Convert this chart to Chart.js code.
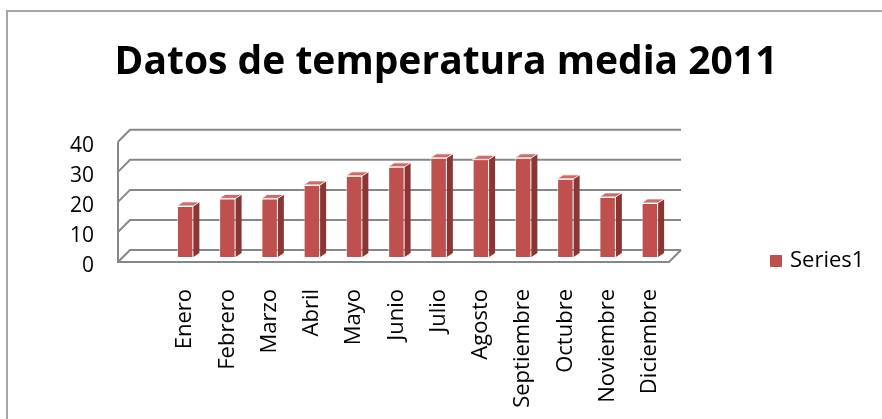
<!DOCTYPE html>
<html>
<head>
<meta charset="utf-8">
<script src="https://cdn.jsdelivr.net/npm/chart.js@4/dist/chart.umd.min.js"></script>
<style>
  html, body { margin: 0; padding: 0; background: #fff; overflow: hidden; }
  #wrap { position: relative; width: 882px; height: 419px; }
  #frame { position: absolute; left: 6px; top: 10px; width: 900px; height: 450px;
           border-left: 2px solid #a6a6a6; border-top: 2px solid #a6a6a6; }
  canvas { position: absolute; left: 0; top: 0; }
</style>
</head>
<body>
<div id="wrap">
  <div id="frame"></div>
  <canvas id="chart" width="882" height="419"></canvas>
</div>
<script>
const months = ['Enero', 'Febrero', 'Marzo', 'Abril', 'Mayo', 'Junio',
                'Julio', 'Agosto', 'Septiembre', 'Octubre', 'Noviembre', 'Diciembre'];
const temps = [17, 19.5, 19.5, 24, 27, 30, 33, 32.5, 33, 26, 20, 18];
const yTicks = [0, 10, 20, 30, 40];
const seriesName = 'Series1';
const chartTitle = 'Datos de temperatura media 2011';

const barColor   = '#c0504d';
const sideColor  = '#8a3634';
const topColor   = '#cf6a67';
const gridColor  = '#878787';

// fake 3D: walls + floor + gridlines behind the bars
const wallPlugin = {
    id: 'wall3d',
    beforeDatasetsDraw(chart) {
        const ctx = chart.ctx;
        const area = chart.chartArea;
        const y = chart.scales.y;
        const fx = area.left - 46, bx = area.left - 34, rx = area.right + 10;
        ctx.save();
        ctx.strokeStyle = gridColor;
        ctx.lineWidth = 2;
        yTicks.forEach(v => {
            const py = y.getPixelForValue(v);
            ctx.beginPath();
            ctx.moveTo(fx, py + 5);
            ctx.lineTo(bx, py - 7);
            ctx.lineTo(rx, py - 7);
            ctx.stroke();
        });
        const top = y.getPixelForValue(yTicks[yTicks.length - 1]);
        const base = y.getPixelForValue(0);
        ctx.beginPath();
        ctx.moveTo(fx, top + 5);
        ctx.lineTo(fx, base + 5);
        ctx.lineTo(area.right - 2, base + 5);
        ctx.lineTo(rx, base - 7);
        ctx.stroke();
        ctx.restore();
    },
    afterDatasetsDraw(chart) {
        const ctx = chart.ctx;
        const dx = 6, dy = 4;
        ctx.save();
        chart.getDatasetMeta(0).data.forEach(bar => {
            const { x, y, base, width } = bar.getProps(['x', 'y', 'base', 'width'], true);
            const l = x - width / 2, r = x + width / 2;
            ctx.fillStyle = sideColor;
            ctx.beginPath();
            ctx.moveTo(r, y);
            ctx.lineTo(r + dx, y - dy);
            ctx.lineTo(r + dx, base - dy);
            ctx.lineTo(r, base);
            ctx.closePath();
            ctx.fill();
            ctx.fillStyle = topColor;
            ctx.beginPath();
            ctx.moveTo(l, y);
            ctx.lineTo(l + dx, y - dy);
            ctx.lineTo(r + dx, y - dy);
            ctx.lineTo(r, y);
            ctx.closePath();
            ctx.fill();
            ctx.strokeStyle = 'rgba(255,255,255,0.8)';
            ctx.lineWidth = 1;
            ctx.stroke();
        });
        ctx.restore();
    },
    afterDraw(chart) {
        // legend on the right
        const ctx = chart.ctx;
        const area = chart.chartArea;
        const ds = chart.data.datasets[0];
        const cy = area.bottom + 4;
        const bx = area.right + 99;
        ctx.save();
        ctx.fillStyle = ds.backgroundColor;
        ctx.fillRect(bx, cy - 6, 12, 12);
        ctx.fillStyle = '#000';
        ctx.font = '22px "Open Sans"';
        ctx.textBaseline = 'middle';
        ctx.fillText(ds.label, bx + 20, cy);
        ctx.restore();
    }
};

new Chart(document.getElementById('chart'), {
    type: 'bar',
    data: {
        labels: months,
        datasets: [{
            label: seriesName,
            data: temps,
            backgroundColor: barColor,
            borderColor: 'rgba(255,255,255,0.6)',
            borderWidth: 1,
            categoryPercentage: 1,
            barPercentage: 0.39
        }]
    },
    options: {
        responsive: false,
        animation: false,
        layout: { padding: { left: 10, right: 0, top: 0, bottom: 0 } },
        plugins: {
            legend: { display: false },
            tooltip: { enabled: false },
            title: {
                display: true,
                text: chartTitle,
                color: '#000',
                font: { family: 'Open Sans', size: 39, weight: 'bold', lineHeight: 1.2 },
                padding: { top: 39, bottom: 51 }
            }
        },
        scales: {
            x: {
                grid: { display: false },
                border: { display: false },
                ticks: {
                    color: '#000',
                    font: { family: 'Open Sans', size: 22 },
                    minRotation: 90,
                    maxRotation: 90,
                    padding: 24,
                    autoSkip: false
                },
                afterFit: s => { s.height = 162; }
            },
            y: {
                min: 0,
                max: 40,
                grid: { display: false },
                border: { display: false },
                ticks: {
                    stepSize: 10,
                    color: '#000',
                    font: { family: 'Open Sans', size: 21 },
                    padding: 62,
                    labelOffset: 9
                },
                afterFit: s => { s.width = 154; }
            },
            spacer: {
                type: 'linear',
                position: 'right',
                display: true,
                grid: { display: false },
                border: { display: false },
                ticks: { display: false },
                afterFit: s => { s.width = 211; }
            }
        }
    },
    plugins: [wallPlugin]
});
</script>
</body>
</html>
